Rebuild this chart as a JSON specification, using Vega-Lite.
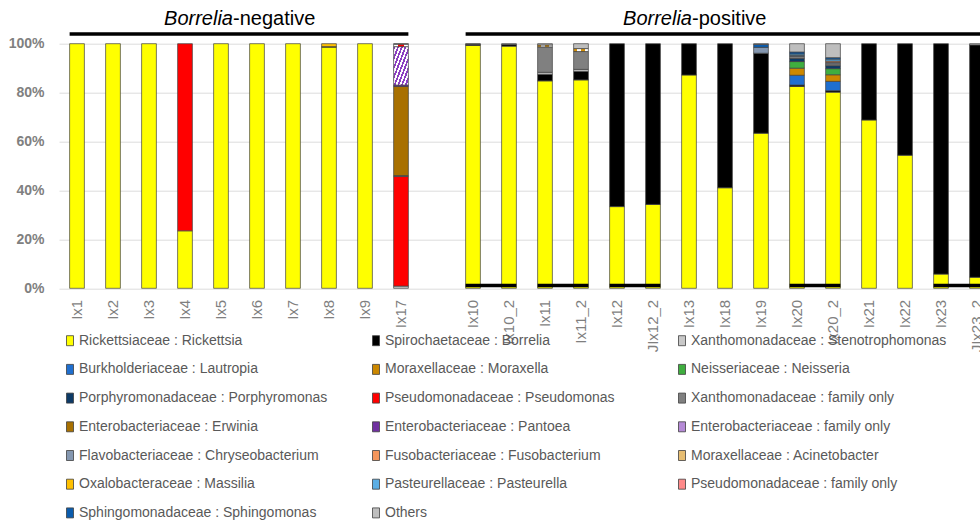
{
  "$schema": "https://vega.github.io/schema/vega-lite/v6.json",
  "autosize": {"type": "none"},
  "width": 921,
  "height": 244.6,
  "padding": {"left": 59, "top": 43.7, "right": 0, "bottom": 236.7},
  "config": {
    "view": {"stroke": null},
    "font": "Liberation Sans",
    "axis": {"domain": false, "ticks": false, "title": null}
  },
  "datasets": {
    "taxa": [
      {"code": "Ric", "taxon": "Rickettsiaceae : Rickettsia", "k": 1},
      {"code": "Bor", "taxon": "Spirochaetaceae : Borrelia", "k": 2},
      {"code": "Ste", "taxon": "Xanthomonadaceae : Stenotrophomonas", "k": 3},
      {"code": "Lau", "taxon": "Burkholderiaceae : Lautropia", "k": 4},
      {"code": "Mor", "taxon": "Moraxellaceae :  Moraxella", "k": 5},
      {"code": "Nei", "taxon": "Neisseriaceae : Neisseria", "k": 6},
      {"code": "Por", "taxon": "Porphyromonadaceae : Porphyromonas", "k": 7},
      {"code": "Pse", "taxon": "Pseudomonadaceae : Pseudomonas", "k": 8},
      {"code": "XanF", "taxon": "Xanthomonadaceae : family only", "k": 9},
      {"code": "Erw", "taxon": "Enterobacteriaceae : Erwinia", "k": 10},
      {"code": "Pan", "taxon": "Enterobacteriaceae : Pantoea", "k": 11},
      {"code": "EntF", "taxon": "Enterobacteriaceae : family only", "k": 12},
      {"code": "Chr", "taxon": "Flavobacteriaceae : Chryseobacterium", "k": 13},
      {"code": "Fus", "taxon": "Fusobacteriaceae : Fusobacterium", "k": 14},
      {"code": "Aci", "taxon": "Moraxellaceae : Acinetobacter", "k": 15},
      {"code": "Mas", "taxon": "Oxalobacteraceae : Massilia", "k": 16},
      {"code": "Pas", "taxon": "Pasteurellaceae : Pasteurella", "k": 17},
      {"code": "PseF", "taxon": "Pseudomonadaceae : family only", "k": 18},
      {"code": "Sph", "taxon": "Sphingomonadaceae : Sphingomonas", "k": 19},
      {"code": "Oth", "taxon": "Others", "k": 20}
    ],
    "abundance": [
      {"sample": "Ix1", "code": "Ric", "pct": 100},
      {"sample": "Ix2", "code": "Ric", "pct": 100},
      {"sample": "Ix3", "code": "Ric", "pct": 100},
      {"sample": "Ix4", "code": "Ric", "pct": 23.5},
      {"sample": "Ix4", "code": "Pse", "pct": 76.5},
      {"sample": "Ix5", "code": "Ric", "pct": 100},
      {"sample": "Ix6", "code": "Ric", "pct": 100},
      {"sample": "Ix7", "code": "Ric", "pct": 100},
      {"sample": "Ix8", "code": "Ric", "pct": 98.6},
      {"sample": "Ix8", "code": "Bor", "pct": 0.2},
      {"sample": "Ix8", "code": "Mas", "pct": 1.2},
      {"sample": "Ix9", "code": "Ric", "pct": 100},
      {"sample": "Ix17", "code": "Ste", "pct": 0.9},
      {"sample": "Ix17", "code": "Pse", "pct": 44.8},
      {"sample": "Ix17", "code": "XanF", "pct": 0.4},
      {"sample": "Ix17", "code": "Erw", "pct": 36.4},
      {"sample": "Ix17", "code": "Pan", "pct": 0.6},
      {"sample": "Ix17", "code": "EntF", "pct": 15.7},
      {"sample": "Ix17", "code": "PseF", "pct": 1.0},
      {"sample": "Ix17", "code": "Oth", "pct": 0.2},
      {"sample": "Ix10", "code": "Ric", "pct": 99.3},
      {"sample": "Ix10", "code": "Bor", "pct": 0.5},
      {"sample": "Ix10", "code": "Oth", "pct": 0.2},
      {"sample": "Ix10_2", "code": "Ric", "pct": 99.0},
      {"sample": "Ix10_2", "code": "Bor", "pct": 0.7},
      {"sample": "Ix10_2", "code": "Oth", "pct": 0.3},
      {"sample": "Ix11", "code": "Ric", "pct": 84.8},
      {"sample": "Ix11", "code": "Bor", "pct": 2.7},
      {"sample": "Ix11", "code": "Ste", "pct": 0.8},
      {"sample": "Ix11", "code": "XanF", "pct": 10.4},
      {"sample": "Ix11", "code": "Aci", "pct": 0.8},
      {"sample": "Ix11", "code": "Oth", "pct": 0.5},
      {"sample": "Ix11_2", "code": "Ric", "pct": 85.2},
      {"sample": "Ix11_2", "code": "Bor", "pct": 3.5},
      {"sample": "Ix11_2", "code": "Ste", "pct": 0.8},
      {"sample": "Ix11_2", "code": "XanF", "pct": 7.3},
      {"sample": "Ix11_2", "code": "Aci", "pct": 1.2},
      {"sample": "Ix11_2", "code": "Oth", "pct": 2.0},
      {"sample": "Ix12", "code": "Ric", "pct": 33.4},
      {"sample": "Ix12", "code": "Bor", "pct": 66.6},
      {"sample": "JIx12_2", "code": "Ric", "pct": 34.3},
      {"sample": "JIx12_2", "code": "Bor", "pct": 65.7},
      {"sample": "Ix13", "code": "Ric", "pct": 87.2},
      {"sample": "Ix13", "code": "Bor", "pct": 12.8},
      {"sample": "Ix18", "code": "Ric", "pct": 41.1},
      {"sample": "Ix18", "code": "Bor", "pct": 58.9},
      {"sample": "Ix19", "code": "Ric", "pct": 63.4},
      {"sample": "Ix19", "code": "Bor", "pct": 32.7},
      {"sample": "Ix19", "code": "Chr", "pct": 2.4},
      {"sample": "Ix19", "code": "Sph", "pct": 1.2},
      {"sample": "Ix19", "code": "Oth", "pct": 0.3},
      {"sample": "Ix20", "code": "Ric", "pct": 82.5},
      {"sample": "Ix20", "code": "Bor", "pct": 0.6},
      {"sample": "Ix20", "code": "Lau", "pct": 4.0},
      {"sample": "Ix20", "code": "Mor", "pct": 2.9},
      {"sample": "Ix20", "code": "Nei", "pct": 2.7},
      {"sample": "Ix20", "code": "Por", "pct": 1.3},
      {"sample": "Ix20", "code": "XanF", "pct": 0.8},
      {"sample": "Ix20", "code": "Chr", "pct": 0.4},
      {"sample": "Ix20", "code": "Pas", "pct": 0.6},
      {"sample": "Ix20", "code": "Sph", "pct": 0.8},
      {"sample": "Ix20", "code": "Oth", "pct": 3.4},
      {"sample": "Ix20_2", "code": "Ric", "pct": 80.2},
      {"sample": "Ix20_2", "code": "Bor", "pct": 0.6},
      {"sample": "Ix20_2", "code": "Lau", "pct": 3.8},
      {"sample": "Ix20_2", "code": "Mor", "pct": 2.7},
      {"sample": "Ix20_2", "code": "Nei", "pct": 2.5},
      {"sample": "Ix20_2", "code": "Por", "pct": 1.2},
      {"sample": "Ix20_2", "code": "XanF", "pct": 0.8},
      {"sample": "Ix20_2", "code": "Chr", "pct": 0.5},
      {"sample": "Ix20_2", "code": "Fus", "pct": 0.6},
      {"sample": "Ix20_2", "code": "Pas", "pct": 0.8},
      {"sample": "Ix20_2", "code": "Sph", "pct": 0.6},
      {"sample": "Ix20_2", "code": "Oth", "pct": 5.7},
      {"sample": "Ix21", "code": "Ric", "pct": 68.8},
      {"sample": "Ix21", "code": "Bor", "pct": 31.2},
      {"sample": "Ix22", "code": "Ric", "pct": 54.4},
      {"sample": "Ix22", "code": "Bor", "pct": 45.6},
      {"sample": "Ix23", "code": "Ric", "pct": 5.8},
      {"sample": "Ix23", "code": "Bor", "pct": 94.2},
      {"sample": "JIx23_2", "code": "Ric", "pct": 4.5},
      {"sample": "JIx23_2", "code": "Bor", "pct": 95.0},
      {"sample": "JIx23_2", "code": "Oth", "pct": 0.5}
    ],
    "pairs": [
      {"a": "Ix10", "b": "Ix10_2"},
      {"a": "Ix11", "b": "Ix11_2"},
      {"a": "Ix12", "b": "JIx12_2"},
      {"a": "Ix20", "b": "Ix20_2"},
      {"a": "Ix23", "b": "JIx23_2"}
    ],
    "groups": [
      {"group": "negative", "first": "Ix1", "last": "Ix17", "anchor": "Ix5", "genus": "Borrelia", "status": "-negative"},
      {"group": "positive", "first": "Ix10", "last": "JIx23_2", "anchor": "Ix13", "genus": "Borrelia", "status": "-positive"}
    ]
  },
  "layer": [
    {
      "data": {"name": "abundance"},
      "transform": [
        {"lookup": "code", "from": {"data": {"name": "taxa"}, "key": "code", "fields": ["taxon", "k"]}}
      ],
      "mark": {"type": "bar", "stroke": "#404040", "strokeWidth": 0.7},
      "encoding": {
        "x": {
          "field": "sample",
          "type": "nominal",
          "sort": null,
          "scale": {
            "domain": ["Ix1", "Ix2", "Ix3", "Ix4", "Ix5", "Ix6", "Ix7", "Ix8", "Ix9", "Ix17", " ",
                       "Ix10", "Ix10_2", "Ix11", "Ix11_2", "Ix12", "JIx12_2", "Ix13", "Ix18", "Ix19",
                       "Ix20", "Ix20_2", "Ix21", "Ix22", "Ix23", "JIx23_2"],
            "range": [0, 936],
            "paddingInner": 0.59,
            "paddingOuter": 0.295
          },
          "axis": {
            "labelAngle": 270,
            "labelFontSize": 15,
            "labelColor": "#7f7f7f",
            "labelPadding": 11,
            "grid": false
          }
        },
        "y": {
          "field": "pct",
          "type": "quantitative",
          "stack": "normalize",
          "scale": {"domain": [0, 1], "nice": false},
          "axis": {
            "values": [0, 0.1, 0.2, 0.3, 0.4, 0.5, 0.6, 0.7, 0.8, 0.9, 1],
            "format": ".0%",
            "labelFontSize": 14,
            "labelFontWeight": "bold",
            "labelColor": "#808080",
            "labelPadding": 15,
            "gridColor": "#dcdcdc",
            "gridWidth": 1
          }
        },
        "order": {"field": "k", "type": "quantitative"},
        "fill": {
          "condition": [
            {"test": "datum.code === 'EntF'", "value": {"gradient": "linear", "x1": 0, "y1": 0, "x2": 1, "y2": 1, "stops": [
                {"offset": 0, "color": "#8b3fc0"}, {"offset": 0.0625, "color": "#8b3fc0"},
                {"offset": 0.0625, "color": "#ffffff"}, {"offset": 0.125, "color": "#ffffff"},
                {"offset": 0.125, "color": "#8b3fc0"}, {"offset": 0.1875, "color": "#8b3fc0"},
                {"offset": 0.1875, "color": "#ffffff"}, {"offset": 0.25, "color": "#ffffff"},
                {"offset": 0.25, "color": "#8b3fc0"}, {"offset": 0.3125, "color": "#8b3fc0"},
                {"offset": 0.3125, "color": "#ffffff"}, {"offset": 0.375, "color": "#ffffff"},
                {"offset": 0.375, "color": "#8b3fc0"}, {"offset": 0.4375, "color": "#8b3fc0"},
                {"offset": 0.4375, "color": "#ffffff"}, {"offset": 0.5, "color": "#ffffff"},
                {"offset": 0.5, "color": "#8b3fc0"}, {"offset": 0.5625, "color": "#8b3fc0"},
                {"offset": 0.5625, "color": "#ffffff"}, {"offset": 0.625, "color": "#ffffff"},
                {"offset": 0.625, "color": "#8b3fc0"}, {"offset": 0.6875, "color": "#8b3fc0"},
                {"offset": 0.6875, "color": "#ffffff"}, {"offset": 0.75, "color": "#ffffff"},
                {"offset": 0.75, "color": "#8b3fc0"}, {"offset": 0.8125, "color": "#8b3fc0"},
                {"offset": 0.8125, "color": "#ffffff"}, {"offset": 0.875, "color": "#ffffff"},
                {"offset": 0.875, "color": "#8b3fc0"}, {"offset": 0.9375, "color": "#8b3fc0"},
                {"offset": 0.9375, "color": "#ffffff"}, {"offset": 1, "color": "#ffffff"}
              ]}},
            {"test": "datum.code === 'Aci'", "value": {"gradient": "linear", "x1": 0, "y1": 0, "x2": 1, "y2": 0, "stops": [
                {"offset": 0, "color": "#d4900a"}, {"offset": 0.25, "color": "#d4900a"},
                {"offset": 0.25, "color": "#ffffff"}, {"offset": 0.5, "color": "#ffffff"},
                {"offset": 0.5, "color": "#d4900a"}, {"offset": 0.75, "color": "#d4900a"},
                {"offset": 0.75, "color": "#ffffff"}, {"offset": 1, "color": "#ffffff"}
              ]}},
            {"test": "datum.code === 'PseF'", "value": {"gradient": "linear", "x1": 0, "y1": 0, "x2": 1, "y2": 0, "stops": [
                {"offset": 0, "color": "#ffffff"}, {"offset": 0.33, "color": "#ffffff"},
                {"offset": 0.33, "color": "#ff0000"}, {"offset": 0.67, "color": "#ff0000"},
                {"offset": 0.67, "color": "#ffffff"}, {"offset": 1, "color": "#ffffff"}
              ]}}
          ],
          "field": "taxon",
          "type": "nominal",
          "scale": {
            "domain": [
              "Rickettsiaceae : Rickettsia", "Spirochaetaceae : Borrelia", "Xanthomonadaceae : Stenotrophomonas",
              "Burkholderiaceae : Lautropia", "Moraxellaceae :  Moraxella", "Neisseriaceae : Neisseria",
              "Porphyromonadaceae : Porphyromonas", "Pseudomonadaceae : Pseudomonas", "Xanthomonadaceae : family only",
              "Enterobacteriaceae : Erwinia", "Enterobacteriaceae : Pantoea", "Enterobacteriaceae : family only",
              "Flavobacteriaceae : Chryseobacterium", "Fusobacteriaceae : Fusobacterium", "Moraxellaceae : Acinetobacter",
              "Oxalobacteraceae : Massilia", "Pasteurellaceae : Pasteurella", "Pseudomonadaceae : family only",
              "Sphingomonadaceae : Sphingomonas", "Others"
            ],
            "range": [
              "#ffff00", "#000000", "#c8c8c8",
              "#1f6fcf", "#cc8800", "#3fae3f",
              "#0d3a66", "#ff0000", "#808080",
              "#a87000", "#7030a0", "#b58ad6",
              "#8497b0", "#f4965c", "#e6bd72",
              "#ffc000", "#5baee4", "#ff8a8a",
              "#0b5cad", "#bebebe"
            ]
          },
          "legend": {
            "title": null,
            "orient": "none",
            "direction": "horizontal",
            "legendX": 4,
            "legendY": 290,
            "columns": 3,
            "gridAlign": "all",
            "columnPadding": 34,
            "rowPadding": 14.7,
            "padding": 0,
            "symbolType": "M-0.7,-1H0.7V1H-0.7Z",
            "symbolSize": 100,
            "symbolStrokeColor": "#404040",
            "symbolStrokeWidth": 0.8,
            "labelFont": "Liberation Sans",
            "labelFontSize": 14,
            "labelColor": "#595959",
            "labelOffset": 2,
            "labelLimit": 400
          }
        }
      }
    },
    {
      "data": {"name": "pairs"},
      "mark": {"type": "rule", "color": "#000000", "strokeWidth": 3.5},
      "encoding": {
        "x": {"field": "a", "type": "nominal", "bandPosition": 0},
        "x2": {"field": "b", "bandPosition": 1},
        "y": {"datum": 0.011}
      }
    },
    {
      "data": {"name": "groups"},
      "mark": {"type": "rule", "color": "#000000", "strokeWidth": 3.5},
      "encoding": {
        "x": {"field": "first", "type": "nominal", "bandPosition": 0},
        "x2": {"field": "last", "bandPosition": 1},
        "y": {"datum": 1.04}
      }
    },
    {
      "data": {"name": "groups"},
      "transform": [{"filter": "datum.group === 'negative'"}],
      "layer": [
        {
          "mark": {"type": "text", "fontStyle": "italic", "fontSize": 20, "align": "right", "baseline": "alphabetic", "dx": 12, "color": "#000000"},
          "encoding": {"x": {"field": "anchor", "type": "nominal"}, "y": {"datum": 1.075}, "text": {"field": "genus"}}
        },
        {
          "mark": {"type": "text", "fontSize": 20, "align": "left", "baseline": "alphabetic", "dx": 12, "color": "#000000"},
          "encoding": {"x": {"field": "anchor", "type": "nominal"}, "y": {"datum": 1.075}, "text": {"field": "status"}}
        }
      ]
    },
    {
      "data": {"name": "groups"},
      "transform": [{"filter": "datum.group === 'positive'"}],
      "layer": [
        {
          "mark": {"type": "text", "fontStyle": "italic", "fontSize": 20, "align": "right", "baseline": "alphabetic", "dx": 3, "color": "#000000"},
          "encoding": {"x": {"field": "anchor", "type": "nominal"}, "y": {"datum": 1.075}, "text": {"field": "genus"}}
        },
        {
          "mark": {"type": "text", "fontSize": 20, "align": "left", "baseline": "alphabetic", "dx": 3, "color": "#000000"},
          "encoding": {"x": {"field": "anchor", "type": "nominal"}, "y": {"datum": 1.075}, "text": {"field": "status"}}
        }
      ]
    }
  ]
}
